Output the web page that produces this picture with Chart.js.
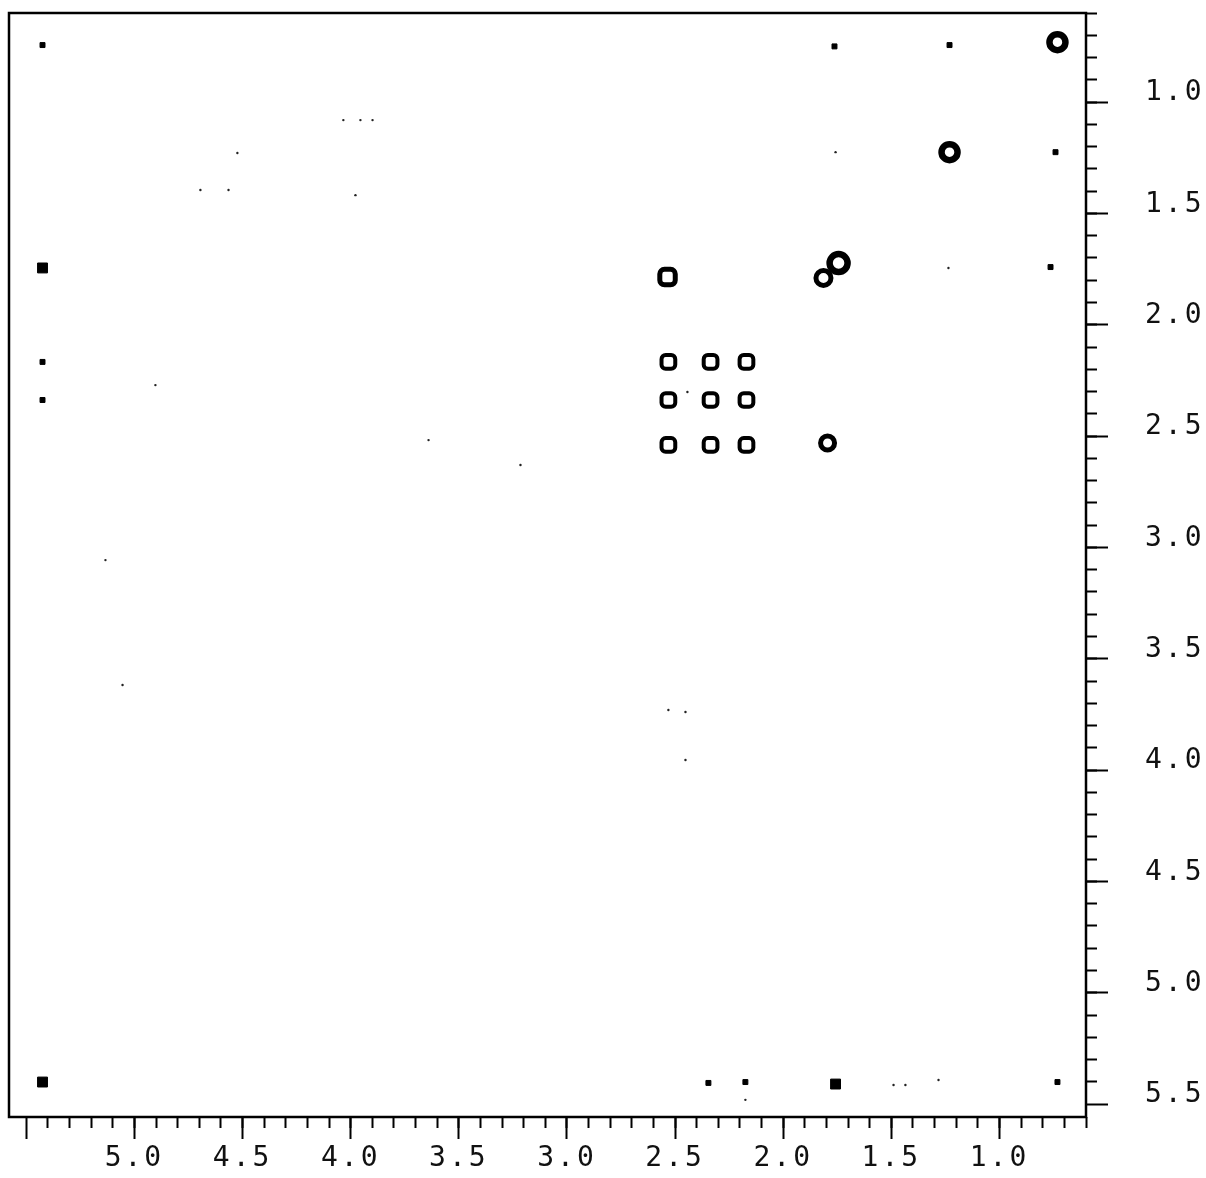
<!DOCTYPE html>
<html>
<head>
<meta charset="utf-8">
<script src="https://cdn.jsdelivr.net/npm/chart.js@4/dist/chart.umd.min.js"></script>
<style>
  html, body { margin: 0; padding: 0; background: #fff; }
  #wrap { width: 1206px; height: 1178px; }
</style>
</head>
<body>
<div id="wrap"><canvas id="chart"></canvas></div>
<script>
// axis ticks (ppm)
const xMajorTicks = [5.5, 5.0, 4.5, 4.0, 3.5, 3.0, 2.5, 2.0, 1.5, 1.0];
const xTickLabels = ["", "5.0", "4.5", "4.0", "3.5", "3.0", "2.5", "2.0", "1.5", "1.0"];
const yMajorTicks = [1.0, 1.5, 2.0, 2.5, 3.0, 3.5, 4.0, 4.5, 5.0, 5.5];
const yTickLabels = ["1.0", "1.5", "2.0", "2.5", "3.0", "3.5", "4.0", "4.5", "5.0", "5.5"];

// diagonal peaks (big rings)
const diagX = [0.732, 1.231, 1.744];
const diagY = [0.731, 1.225, 1.723];
// smaller rings
const ringX = [2.535, 1.814, 1.795];
const ringY = [1.786, 1.790, 2.531];
// cross peak grid
const crossX = [2.531, 2.336, 2.170, 2.531, 2.336, 2.170, 2.531, 2.336, 2.170];
const crossY = [2.167, 2.167, 2.167, 2.338, 2.338, 2.338, 2.540, 2.540, 2.540];
// filled blobs
const blobX = [5.425, 5.425, 1.758];
const blobY = [1.745, 5.401, 5.410];
// small marks
const markX = [5.425, 5.425, 5.425, 1.763, 1.231, 0.741, 0.764, 2.346, 2.175, 0.732];
const markY = [0.744, 2.167, 2.338, 0.750, 0.744, 1.225, 1.741, 5.405, 5.401, 5.401];
// noise dots
const noiseX = [4.524, 4.695, 4.565, 3.978, 4.034, 3.955, 3.899, 4.903, 3.640, 3.215, 5.134, 5.055, 2.531, 2.452, 2.452, 1.758, 1.236, 1.282, 1.490, 1.435, 2.175, 2.443];
const noiseY = [1.229, 1.395, 1.395, 1.418, 1.081, 1.081, 1.081, 2.271, 2.518, 2.630, 3.057, 3.618, 3.730, 3.739, 3.955, 1.225, 1.745, 5.392, 5.414, 5.414, 5.481, 2.302];

const pts = (xs, ys) => xs.map((x, i) => ({ x: x, y: ys[i] }));

const X_MIN = 0.6, X_MAX = 5.58;
const Y_MIN = 0.6, Y_MAX = 5.558;

const frame = {
  id: 'frame',
  beforeDraw(chart) {
    chart.ctx.letterSpacing = '3px';
  },
  afterDraw(chart) {
    const { ctx, chartArea: a } = chart;
    ctx.save();
    ctx.strokeStyle = '#000';
    ctx.lineWidth = 2.5;
    ctx.strokeRect(a.left, a.top, a.right - a.left, a.bottom - a.top);
    ctx.restore();
  }
};

const noPad = (s) => { s.paddingTop = 0; s.paddingBottom = 0; s.paddingLeft = 0; s.paddingRight = 0; };

const font = { family: "'DejaVu Sans Mono', monospace", size: 28 };

const config = {
  type: 'scatter',
  data: {
    datasets: [
      {
        data: pts(diagX, diagY),
        pointStyle: 'circle', pointRadius: [8, 8, 9], borderWidth: 6.5,
        borderColor: '#000', backgroundColor: '#fff'
      },
      {
        data: pts(ringX, ringY),
        pointStyle: ['rectRounded', 'circle', 'circle'], pointRadius: [9, 7.5, 7], borderWidth: 5,
        borderColor: '#000', backgroundColor: '#fff'
      },
      {
        data: pts(crossX, crossY),
        pointStyle: 'rectRounded', pointRadius: 8, borderWidth: 4,
        borderColor: '#000', backgroundColor: '#fff'
      },
      {
        data: pts(blobX, blobY),
        pointStyle: 'rect', pointRadius: 7, borderWidth: 1,
        borderColor: '#000', backgroundColor: '#000'
      },
      {
        data: pts(markX, markY),
        pointStyle: 'rect', pointRadius: 3.5, borderWidth: 1,
        borderColor: '#000', backgroundColor: '#000'
      },
      {
        data: pts(noiseX, noiseY),
        pointStyle: 'circle', pointRadius: 1.2, borderWidth: 0,
        backgroundColor: '#222'
      }
    ]
  },
  options: {
    responsive: true,
    maintainAspectRatio: false,
    animation: false,
    events: [],
    layout: { autoPadding: false, padding: { left: 9, top: 13, right: 0, bottom: 0 } },
    plugins: {
      legend: { display: false },
      tooltip: { enabled: false }
    },
    scales: {
      xm: {
        type: 'linear', position: 'bottom', axis: 'x', weight: 0,
        min: X_MIN, max: X_MAX, reverse: true,
        ticks: { stepSize: 0.1, display: false },
        afterBuildTicks: (s) => { s.ticks = s.ticks.filter(t => t.value <= 5.5001); },
        afterFit: (s) => { s.height = 0; noPad(s); },
        grid: { drawOnChartArea: false, tickLength: 11, tickWidth: 2, tickColor: '#000' },
        border: { display: false }
      },
      x: {
        type: 'linear', position: 'bottom', weight: 1,
        min: X_MIN, max: X_MAX, reverse: true,
        afterBuildTicks: (s) => { s.ticks = xMajorTicks.map(v => ({ value: v })); },
        afterFit: (s) => { s.height = 61; noPad(s); },
        ticks: {
          color: '#111', font: font, padding: 3, maxRotation: 0, autoSkip: false,
          callback: (v, i) => xTickLabels[i]
        },
        grid: { drawOnChartArea: false, tickLength: 22, tickWidth: 2, tickColor: '#000' },
        border: { display: true, color: '#000', width: 2 }
      },
      ym: {
        type: 'linear', position: 'right', axis: 'y', weight: 0,
        min: Y_MIN, max: Y_MAX, reverse: true,
        ticks: { stepSize: 0.1, display: false },
        afterBuildTicks: (s) => { s.ticks = s.ticks.filter(t => t.value <= 5.5001); },
        afterFit: (s) => { s.width = 0; noPad(s); },
        grid: { drawOnChartArea: false, tickLength: 11, tickWidth: 2, tickColor: '#000' },
        border: { display: false }
      },
      y: {
        type: 'linear', position: 'right', weight: 1,
        min: Y_MIN, max: Y_MAX, reverse: true,
        afterBuildTicks: (s) => { s.ticks = yMajorTicks.map(v => ({ value: v })); },
        afterFit: (s) => { s.width = 120; noPad(s); },
        ticks: {
          color: '#111', font: font, padding: 37, labelOffset: -9, autoSkip: false,
          callback: (v, i) => yTickLabels[i]
        },
        grid: { drawOnChartArea: false, tickLength: 22, tickWidth: 2, tickColor: '#000' },
        border: { display: true, color: '#000', width: 2 }
      }
    }
  },
  plugins: [frame]
};

config.data.datasets.forEach(d => { d.xAxisID = 'x'; d.yAxisID = 'y'; });

new Chart(document.getElementById('chart'), config);
</script>
</body>
</html>
